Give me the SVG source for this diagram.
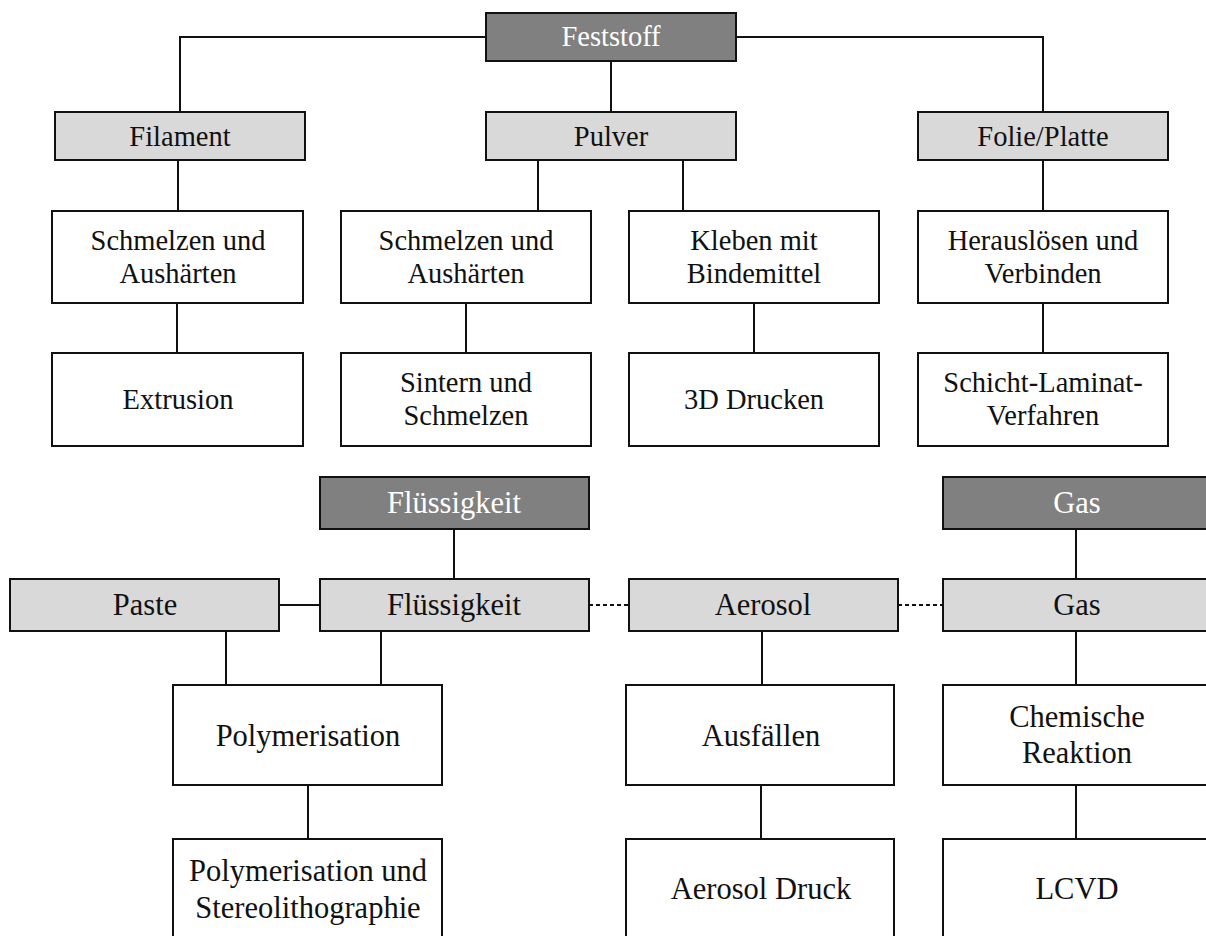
<svg xmlns="http://www.w3.org/2000/svg" width="1206" height="936" viewBox="0 0 1206 936">
  <style>
    .box { stroke: #111; stroke-width: 2; }
    .dark { fill: #808080; }
    .light { fill: #d9d9d9; }
    .plain { fill: #ffffff; }
    text { font-family: "Liberation Serif", "Times New Roman", serif; font-size: 28.5px; text-anchor: middle; fill: #111; }
    .lower text { font-size: 30.5px; }
    text.inv { fill: #ffffff; }
    .conn { stroke: #111; stroke-width: 2; fill: none; }
    .dot { stroke: #111; stroke-width: 2; fill: none; stroke-dasharray: 4 3; }
  </style>
  <rect width="1206" height="936" fill="#ffffff"/>

  <!-- connectors -->
  <g id="connectors">
    <path class="conn" d="M180 112 V37 H486 M736 37 H1043 V112"/>
    <path class="conn" d="M611 61 V112"/>
    <path class="conn" d="M178 160 V211 M177 303 V353"/>
    <path class="conn" d="M538 160 V211 M683 160 V211"/>
    <path class="conn" d="M466 303 V353 M754 303 V353"/>
    <path class="conn" d="M1043 160 V211 M1043 303 V353"/>
    <path class="conn" d="M454 529 V579"/>
    <path class="conn" d="M279 605 H320"/>
    <path class="dot" d="M589 605 H629 M898 605 H943"/>
    <path class="conn" d="M226 631 V685 M381 631 V685"/>
    <path class="conn" d="M308 785 V839"/>
    <path class="conn" d="M762 631 V685 M761 785 V839"/>
    <path class="conn" d="M1076 529 V579 M1076 631 V685 M1076 785 V839"/>
  </g>

  <!-- Feststoff branch -->
  <g id="feststoff">
    <rect class="box dark" x="486" y="13" width="250" height="48"/>
    <text class="inv" x="611" y="46">Feststoff</text>
  </g>
  <g id="filament">
    <rect class="box light" x="55" y="112" width="250" height="48"/>
    <text x="180" y="146">Filament</text>
  </g>
  <g id="pulver">
    <rect class="box light" x="486" y="112" width="250" height="48"/>
    <text x="611" y="146">Pulver</text>
  </g>
  <g id="folie-platte">
    <rect class="box light" x="918" y="112" width="250" height="48"/>
    <text x="1043" y="146">Folie/Platte</text>
  </g>

  <g id="schmelzen-filament">
    <rect class="box plain" x="52" y="211" width="251" height="92"/>
    <text x="178" y="250">Schmelzen und</text>
    <text x="178" y="283">Aushärten</text>
  </g>
  <g id="schmelzen-pulver">
    <rect class="box plain" x="341" y="211" width="250" height="92"/>
    <text x="466" y="250">Schmelzen und</text>
    <text x="466" y="283">Aushärten</text>
  </g>
  <g id="kleben">
    <rect class="box plain" x="629" y="211" width="250" height="92"/>
    <text x="754" y="250">Kleben mit</text>
    <text x="754" y="283">Bindemittel</text>
  </g>
  <g id="herausloesen">
    <rect class="box plain" x="918" y="211" width="250" height="92"/>
    <text x="1043" y="250">Herauslösen und</text>
    <text x="1043" y="283">Verbinden</text>
  </g>

  <g id="extrusion">
    <rect class="box plain" x="52" y="353" width="251" height="93"/>
    <text x="178" y="409">Extrusion</text>
  </g>
  <g id="sintern">
    <rect class="box plain" x="341" y="353" width="250" height="93"/>
    <text x="466" y="392">Sintern und</text>
    <text x="466" y="425">Schmelzen</text>
  </g>
  <g id="drucken-3d">
    <rect class="box plain" x="629" y="353" width="250" height="93"/>
    <text x="754" y="409">3D Drucken</text>
  </g>
  <g id="schicht-laminat">
    <rect class="box plain" x="918" y="353" width="250" height="93"/>
    <text x="1043" y="392">Schicht-Laminat-</text>
    <text x="1043" y="425">Verfahren</text>
  </g>

  <!-- Flüssigkeit and Gas branches -->
  <g class="lower">
    <g id="fluessigkeit-top">
      <rect class="box dark" x="320" y="477" width="269" height="52"/>
      <text class="inv" x="454" y="513">Flüssigkeit</text>
    </g>
    <g id="gas-top">
      <rect class="box dark" x="943" y="477" width="270" height="52"/>
      <text class="inv" x="1077" y="513">Gas</text>
    </g>

    <g id="paste">
      <rect class="box light" x="10" y="579" width="269" height="52"/>
      <text x="145" y="615">Paste</text>
    </g>
    <g id="fluessigkeit">
      <rect class="box light" x="320" y="579" width="269" height="52"/>
      <text x="454" y="615">Flüssigkeit</text>
    </g>
    <g id="aerosol">
      <rect class="box light" x="629" y="579" width="269" height="52"/>
      <text x="763" y="615">Aerosol</text>
    </g>
    <g id="gas">
      <rect class="box light" x="943" y="579" width="270" height="52"/>
      <text x="1077" y="615">Gas</text>
    </g>

    <g id="polymerisation">
      <rect class="box plain" x="173" y="685" width="269" height="100"/>
      <text x="308" y="746">Polymerisation</text>
    </g>
    <g id="ausfaellen">
      <rect class="box plain" x="626" y="685" width="268" height="100"/>
      <text x="761" y="746">Ausfällen</text>
    </g>
    <g id="chemische-reaktion">
      <rect class="box plain" x="943" y="685" width="270" height="100"/>
      <text x="1077" y="727">Chemische</text>
      <text x="1077" y="763">Reaktion</text>
    </g>

    <g id="stereolithographie">
      <rect class="box plain" x="173" y="839" width="269" height="104"/>
      <text x="308" y="881">Polymerisation und</text>
      <text x="308" y="918">Stereolithographie</text>
    </g>
    <g id="aerosol-druck">
      <rect class="box plain" x="626" y="839" width="268" height="104"/>
      <text x="761" y="899">Aerosol Druck</text>
    </g>
    <g id="lcvd">
      <rect class="box plain" x="943" y="839" width="270" height="104"/>
      <text x="1077" y="899">LCVD</text>
    </g>
  </g>
</svg>
